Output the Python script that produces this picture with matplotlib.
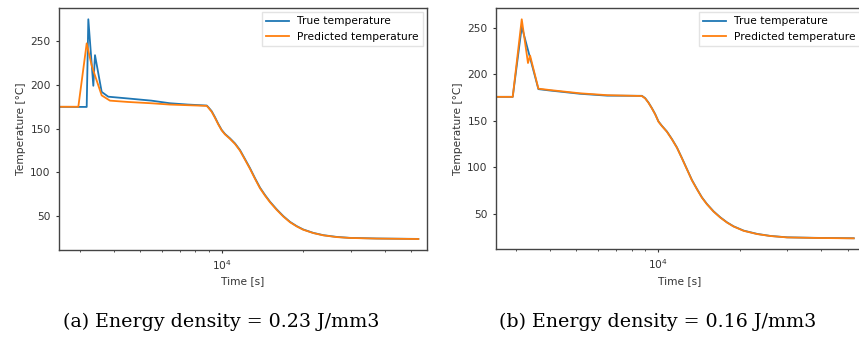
import numpy as np
import matplotlib.pyplot as plt

# (a) energy density 0.23 J/mm3
time_a_true = [2000, 3176, 3220, 3360, 3408, 3607, 3815, 4500, 5500, 6445, 7500, 8807,
               8926, 9187, 9448, 9716, 10000, 10285, 10730, 11197, 11683, 12190, 12720,
               13274, 13850, 14450, 15080, 15960, 16880, 17870, 18920, 20000, 21780,
               23710, 26570, 29750, 37330, 53160]
temp_a_true = [175, 174.8, 275, 199, 234, 192, 186.5, 184.5, 182, 179, 177.5, 176.4,
               174.5, 169.9, 163, 155.4, 148.5, 143.9, 138.9, 133.1, 125.5, 115.2, 104.8,
               93.3, 82.5, 74.1, 66.4, 57.7, 50, 43.4, 38.5, 34.7, 30.8,
               28.2, 26.2, 25.1, 24.4, 23.9]
time_a_pred = [2000, 2958, 3176, 3314, 3457, 3607, 3870, 4500, 5500, 6445, 8807,
               8926, 9187, 9448, 9716, 10000, 10285, 10730, 11197, 11683, 12190, 12720,
               13274, 13850, 14450, 15080, 15960, 16880, 17870, 18920, 20000, 21780,
               23710, 26570, 29750, 37330, 53160]
temp_a_pred = [175, 175, 247.5, 222, 205, 188, 182, 180.5, 179, 177.5, 176,
               174, 169.2, 162.3, 154.8, 148, 143.4, 138.3, 132.5, 124.8, 114.5, 104,
               92.6, 81.8, 73.4, 65.8, 57.1, 49.5, 43, 38.2, 34.4, 30.6,
               28, 26, 25, 24.3, 23.8]

# (b) energy density 0.16 J/mm3
time_b_true = [2000, 2917, 3150, 3627, 4000, 5165, 6500, 8730, 8977, 9233, 9504, 9772,
               10050, 10346, 10795, 11265, 11753, 12262, 12794, 13350, 13930, 14530,
               15160, 16040, 16980, 17970, 19010, 20700, 23200, 25970, 29920, 38610, 52700]
temp_b_true = [175.7, 175.7, 251, 184, 182.5, 179, 177, 176.8, 174.3, 169.6, 163.6, 157.2,
               149.3, 144.6, 138.5, 130.4, 121.4, 110, 98.2, 86.4, 76.8, 67.8,
               60.7, 52.8, 46.4, 41, 36.7, 32.1, 28.6, 26.4, 24.9, 24.3, 23.9]
time_b_pred = [2000, 2917, 3149, 3320, 3380, 3627, 4000, 5165, 6500, 8730, 8977, 9233,
               9504, 9772, 10050, 10346, 10795, 11265, 11753, 12262, 12794, 13350, 13930,
               14530, 15160, 16040, 16980, 17970, 19010, 20700, 23200, 25970, 29920,
               38610, 52700]
temp_b_pred = [175.7, 175.7, 259, 212, 220, 184.5, 183, 179.5, 177.5, 176.6, 174, 169.3,
               163.3, 156.9, 149, 144.3, 138.2, 130.1, 121.1, 109.7, 97.9, 86.1, 76.5,
               67.5, 60.4, 52.5, 46.1, 40.8, 36.5, 31.9, 28.4, 26.3, 24.8,
               24.2, 23.8]

captions = ["(a) Energy density = 0.23 J/mm3", "(b) Energy density = 0.16 J/mm3"]

W, H = 859, 339
fig = plt.figure(figsize=(W / 100, H / 100), dpi=100)

def px_axes(left, top, right, bottom):
    return fig.add_axes([left / W, 1 - bottom / H, (right - left) / W, (bottom - top) / H])

ax_a = px_axes(59, 8.3, 427, 250)
ax_b = px_axes(496, 8.3, 864, 249.3)

panels = [
    (ax_a, time_a_true, temp_a_true, time_a_pred, temp_a_pred, (2510, 57230)),
    (ax_b, time_b_true, temp_b_true, time_b_pred, temp_b_pred, (2531, 57500)),
]

fs = 7.7
for ax, tt, yt, tp, yp, xlim in panels:
    ax.plot(tt, yt, color="#1f77b4", lw=1.3, label="True temperature")
    ax.plot(tp, yp, color="#ff7f0e", lw=1.3, label="Predicted temperature")
    ax.set_xscale("log")
    ax.set_xlim(*xlim)
    ymin = min(min(yt), min(yp))
    ymax = max(max(yt), max(yp))
    pad = 0.05 * (ymax - ymin)
    ax.set_ylim(ymin - pad, ymax + pad)
    ax.set_yticks([50, 100, 150, 200, 250])
    ax.set_xlabel("Time [s]", fontsize=fs, color="#333333", labelpad=3)
    ax.set_ylabel("Temperature [°C]", fontsize=fs, color="#333333", labelpad=3)
    ax.tick_params(labelsize=fs, colors="#333333", length=2.5, width=0.8)
    ax.tick_params(which="minor", length=1.5, width=0.6, colors="#333333")
    for s in ax.spines.values():
        s.set_color("#444444")
        s.set_linewidth(1.0)
    ax.legend(loc="upper right", fontsize=fs, handlelength=2.1, borderaxespad=0.35,
              framealpha=0.8, edgecolor="#dddddd", fancybox=False)

fig.text(221.5 / W, 1 - 321.7 / H, captions[0], family="DejaVu Serif",
         fontsize=13.7, ha="center", va="center")
fig.text(658 / W, 1 - 321.7 / H, captions[1], family="DejaVu Serif",
         fontsize=13.7, ha="center", va="center")

fig.savefig("out.png", dpi=100)
